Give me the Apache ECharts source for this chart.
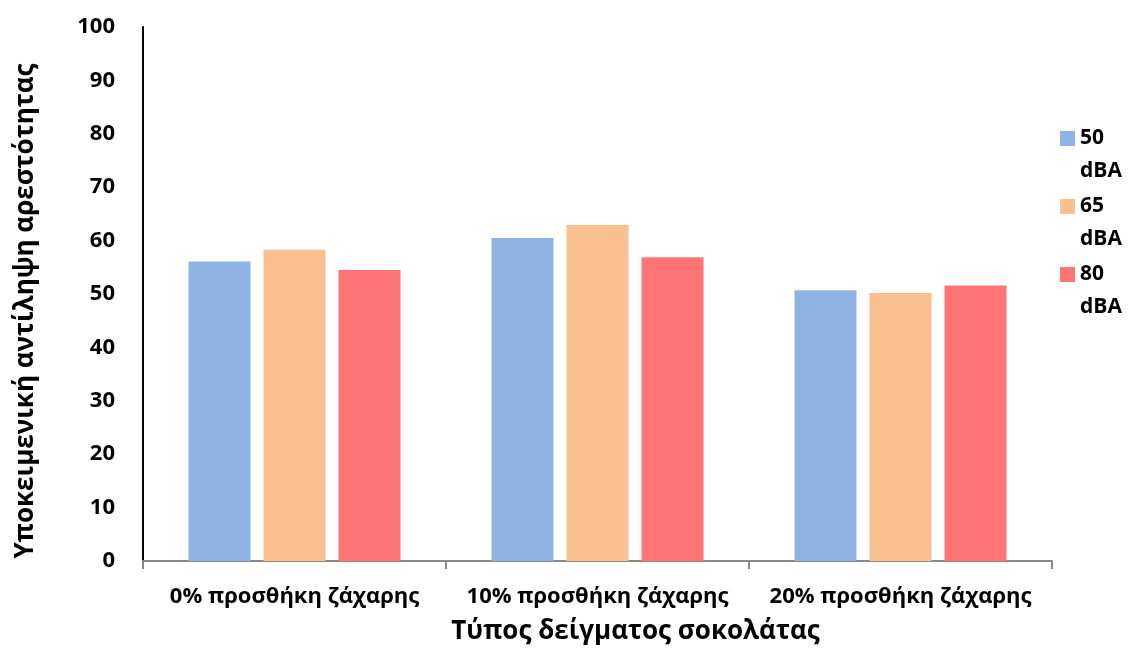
<!DOCTYPE html>
<html>
<head>
<meta charset="utf-8">
<script src="https://cdn.jsdelivr.net/npm/echarts@6/dist/echarts.min.js"></script>
<style>
  html, body { margin: 0; padding: 0; background: #fff; }
  #main { width: 1129px; height: 650px; }
</style>
</head>
<body>
<div id="main"></div>
<script>
var categories = ['0% προσθήκη ζάχαρης', '10% προσθήκη ζάχαρης', '20% προσθήκη ζάχαρης'];
var seriesNames = ['50 dBA', '65 dBA', '80 dBA'];
var values50 = [56.1, 60.5, 50.7];
var values65 = [58.3, 62.9, 50.2];
var values80 = [54.5, 56.9, 51.6];
var yTicks = [0, 10, 20, 30, 40, 50, 60, 70, 80, 90, 100];

var colors = ['#8FB4E3', '#FAC090', '#FF7575'];
var font = '"Open Sans", "Noto Sans", sans-serif';

var mainChart = echarts.init(document.getElementById('main'));

function makeBar(name, data, color) {
    return {
        name: name,
        type: 'bar',
        data: data,
        barWidth: 62,
        barGap: '21%',
        itemStyle: { color: color }
    };
}

var option = {
    animation: false,
    color: colors,
    textStyle: { fontFamily: font },
    grid: { left: 143, right: 77, top: 27, bottom: 88 },
    legend: {
        orient: 'vertical',
        left: 1060,
        top: 89,
        padding: 0,
        itemWidth: 15,
        itemHeight: 15,
        itemGap: -31,
        icon: 'rect',
        data: seriesNames,
        // empty first line so the swatch sits beside the number
        formatter: function (name) { return '\n' + name.replace(' ', '\n'); },
        textStyle: {
            fontFamily: font,
            fontSize: 21,
            fontWeight: 'bold',
            color: '#000',
            lineHeight: 33
        }
    },
    xAxis: {
        type: 'category',
        data: categories,
        name: 'Τύπος δείγματος σοκολάτας',
        nameLocation: 'middle',
        nameGap: 58,
        nameTextStyle: { fontFamily: font, fontSize: 26, fontWeight: 'bold', color: '#000', padding: [0, 0, 0, 76] },
        axisLine: { lineStyle: { color: '#898989', width: 2 } },
        axisTick: { show: true, interval: 0, length: 8, lineStyle: { color: '#898989', width: 2 } },
        axisLabel: { interval: 0, hideOverlap: false, fontFamily: font, fontSize: 22, fontWeight: 'bold', color: '#000', margin: 25 }
    },
    yAxis: {
        type: 'value',
        min: yTicks[0],
        max: yTicks[yTicks.length - 1],
        interval: yTicks[1] - yTicks[0],
        name: 'Υποκειμενική αντίληψη αρεστότητας',
        nameLocation: 'middle',
        nameGap: 104,
        nameTextStyle: { fontFamily: font, fontSize: 26, fontWeight: 'bold', color: '#000', padding: [0, 34, 0, 0] },
        splitLine: { show: false },
        axisLine: { show: true, lineStyle: { color: '#000', width: 2 } },
        axisTick: { show: false },
        axisLabel: { fontFamily: font, fontSize: 22, fontWeight: 'bold', color: '#000', margin: 28 }
    },
    series: [
        makeBar(seriesNames[0], values50, colors[0]),
        makeBar(seriesNames[1], values65, colors[1]),
        makeBar(seriesNames[2], values80, colors[2])
    ]
};
option && mainChart.setOption(option);
</script>
</body>
</html>
